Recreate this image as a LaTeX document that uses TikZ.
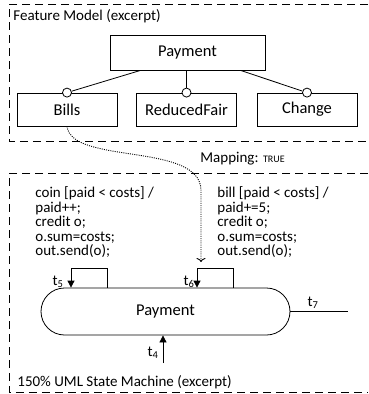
\documentclass[tikz,border=0pt]{standalone}
\usepackage{fontspec}
\setmainfont{Carlito}
\usetikzlibrary{arrows.meta}

\tikzset{
  fbox/.style={draw,minimum width=100pt,minimum height=33pt,font=\fontsize{16.5}{19}\selectfont},
  opt/.style={circle,draw,fill=white,inner sep=0pt,minimum size=9pt},
  frame/.style={dash pattern=on 8pt off 5pt},
  mapline/.style={dash pattern=on 1pt off 1.2pt,line width=0.9pt,-{To[length=4pt,width=9pt]}},
  trans/.style={-{Triangle[length=7pt,width=7pt]}},
  lbl/.style={font=\fontsize{15}{14.5}\selectfont,inner sep=0pt},
}

\begin{document}
\begin{tikzpicture}[x=1pt,y=-1pt,line width=0.8pt]
\useasboundingbox (0,0) rectangle (368,394);

% feature model
\draw[frame] (368,4) -- (9,4) -- (9,141) -- (368,141);
\node[lbl,anchor=west] (fmtitle) at (13,16) {Feature Model (excerpt)};
\node[fbox,minimum width=155pt,minimum height=35pt] (pay) at (187.5,52.5) {Payment};
\node[fbox] (bills) at (67,109.5) {Bills};
\node[fbox] (reduced) at (186.5,109.5) {ReducedFair};
\node[fbox] (change) at (307,109.5) {Change};
\node[opt] (obills) at (bills.north) {};
\node[opt] (oreduced) at (reduced.north) {};
\node[opt] (ochange) at (change.north) {};
\draw ([xshift=-47pt]pay.south) -- (obills);
\draw (reduced.north |- pay.south) -- (oreduced);
\draw ([xshift=53pt]pay.south) -- (ochange);

% mapping
\coordinate (mapend) at (201,262);
\draw[mapline] (bills.south) .. controls (72,165) and (200,142) .. (201,190) -- (mapend);
\node[lbl,anchor=west] (maplbl) at (200,159) {Mapping: {\fontsize{10}{10}\selectfont TRUE}};

% state machine
\draw[frame] (368,173) -- (9,173) -- (9,392) -- (368,392);
\node[lbl,align=left,anchor=north west] (coin) at (35,186.5) {coin [paid < costs] /\\paid++;\\credit o;\\o.sum=costs;\\out.send(o);};
\node[lbl,align=left,anchor=north west] (bill) at (217,186.5) {bill [paid < costs] /\\paid+=5;\\credit o;\\o.sum=costs;\\out.send(o);};
\node[draw,rounded corners=23.5pt,minimum width=249pt,minimum height=47pt,
  font=\fontsize{16.5}{19}\selectfont] (st) at (165.5,311.5) {Payment};

\draw[trans] ([xshift=-58.5pt]st.north) -- ++(0,-19) -| ([xshift=-94.5pt]st.north);
\node[lbl] (t5) at (58,282) {t\textsubscript{5}};
\draw[trans] ([xshift=67.5pt]st.north) -- ++(0,-19) -| ([xshift=31.5pt]st.north);
\node[lbl] (t6) at (189,282) {t\textsubscript{6}};

\coordinate (t7end) at (348,311.5);
\draw (st.east) -- (t7end);
\node[lbl] (t7) at (313,303) {t\textsubscript{7}};

\coordinate (t4start) at (163,363);
\draw[trans] (t4start) -- (t4start |- st.south);
\node[lbl] (t4) at (153,353) {t\textsubscript{4}};

\node[lbl,anchor=west] (smtitle) at (17,382) {150\% UML State Machine (excerpt)};
\end{tikzpicture}
\end{document}
